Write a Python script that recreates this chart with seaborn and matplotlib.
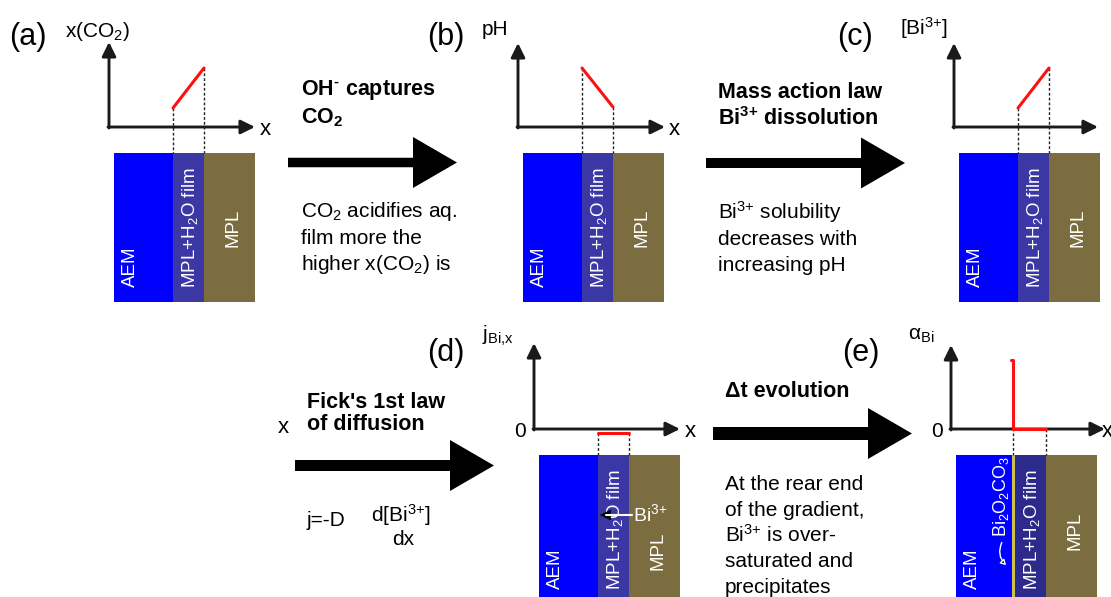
import matplotlib
matplotlib.use("Agg")
import matplotlib.pyplot as plt
from matplotlib.patches import Rectangle, FancyArrow, FancyArrowPatch
import seaborn as sns

sns.set_theme(style="white")
plt.rcParams["font.family"] = ["Liberation Sans", "DejaVu Sans"]
plt.rcParams["text.color"] = "black"
plt.rcParams["mathtext.fontset"] = "custom"
plt.rcParams["mathtext.rm"] = "Liberation Sans"
plt.rcParams["mathtext.it"] = "Liberation Sans:italic"
plt.rcParams["mathtext.bf"] = "Liberation Sans:bold"

# ---------------------------------------------------------------- data
# depth across the AEM | film | MPL stack and the sketched profile heights
film_x = [64, 95]
co2_level = [19, 59]        # x(CO2) rises towards the MPL
ph_level = [59, 20]         # pH falls towards the MPL
bi_level = [19, 59]         # [Bi3+] rises towards the MPL
flux_level = [-4, -4]       # j_Bi,x slightly negative in the film
alpha_x = [60, 62, 62, 95]
alpha_level = [69, 69, 0, 0]  # precipitate only at the rear end

layer_labels = ["AEM", r"MPL+H$_\mathregular{2}$O film", "MPL"]
layer_edges = [5, 64, 95, 146]
layer_colors = ["#0000ff", "#3b38a6", "#7b6d40"]

BI3 = r"Bi$^\mathregular{3{+}}$"
panel_tags = ["(a)", "(b)", "(c)", "(d)", "(e)"]
axis_names = [r"x(CO$_\mathregular{2}$)", "pH", r"[Bi$^\mathregular{3{+}}$]",
              r"j$_\mathregular{Bi{,}x}$", r"α$_\mathregular{Bi}$"]

W, H = 1111, 597
RED = "#ff1010"
WHITE_FS = 13.5
CAP_HALF = 6.7

fig = plt.figure(figsize=(W / 100, H / 100), dpi=100)
base = fig.add_axes([0, 0, 1, 1])
base.set_xlim(0, W)
base.set_ylim(H, 0)
base.axis("off")


def make_panel(ox, oy):
    ax = fig.add_axes([(ox - 25) / W, (H - (oy + 175)) / H, 190 / W, 275 / H])
    ax.patch.set_alpha(0)
    return ax


def finish(ax):
    ax.set_xlim(-25, 165)
    ax.set_ylim(-175, 100)
    ax.axis("off")


def axes_arrows(ax, xtip, ytip):
    style = dict(arrowstyle="-|>,head_length=0.85,head_width=0.42", color="k",
                 lw=2.1, mutation_scale=10, shrinkA=0, shrinkB=0)
    ax.annotate("", xy=(xtip, 0), xytext=(-1, 0), arrowprops=style)
    ax.annotate("", xy=(0, ytip), xytext=(0, -1), arrowprops=style)


def stack(ax, film_color="#3b38a6", mpl_bottom=-120, stripe=False):
    colors = [layer_colors[0], film_color, layer_colors[2]]
    for i in range(3):
        ax.add_patch(Rectangle((layer_edges[i], -175), layer_edges[i + 1] - layer_edges[i],
                               149, color=colors[i], lw=0, clip_on=False))
    if stripe:
        ax.add_patch(Rectangle((61, -175), 3, 149, color="#c9c152", lw=0, clip_on=False))
    starts = [-160, -161, mpl_bottom]
    centers = [19, 79, 122]
    for lab, cx, sy in zip(layer_labels, centers, starts):
        ax.text(cx + CAP_HALF, sy, lab, rotation=90, rotation_mode="anchor",
                ha="left", va="baseline", color="white", fontsize=WHITE_FS, clip_on=False)


def guides(ax, pts):
    for x, y in pts:
        ax.plot([x, x], [y, -26], color="#222222", lw=1.0, ls=(0, (2, 1.5)), zorder=1)


def profile(ax, xs, ys):
    sns.lineplot(x=xs, y=ys, ax=ax, color=RED, lw=2.2, estimator=None, sort=False,
                 zorder=5)


# ---------------------------------------------------------------- panels
origins = [(109, 127), (518, 127), (954, 127), (534, 429), (951, 429)]

ax = make_panel(*origins[0])
stack(ax)
guides(ax, [(film_x[0], co2_level[0]), (film_x[1], co2_level[1])])
axes_arrows(ax, 146, 85)
profile(ax, film_x, co2_level)
finish(ax)

ax = make_panel(*origins[1])
stack(ax, mpl_bottom=-120)
guides(ax, [(film_x[0], ph_level[0]), (film_x[1], ph_level[1])])
axes_arrows(ax, 147, 84)
profile(ax, film_x, ph_level)
finish(ax)

ax = make_panel(*origins[2])
stack(ax)
guides(ax, [(film_x[0], bi_level[0]), (film_x[1], bi_level[1])])
axes_arrows(ax, 144, 84)
profile(ax, film_x, bi_level)
finish(ax)

ax = make_panel(*origins[3])
stack(ax, mpl_bottom=-141)
guides(ax, [(film_x[0], flux_level[0]), (film_x[1], flux_level[1])])
axes_arrows(ax, 146, 86)
profile(ax, film_x, flux_level)
ax.plot([72, 98], [-86, -86], color="white", lw=1.5, zorder=6)
ax.annotate("", xy=(66, -86), xytext=(74, -86),
            arrowprops=dict(arrowstyle="-|>,head_length=0.7,head_width=0.35",
                            color="black", lw=0.5, mutation_scale=10, shrinkA=0, shrinkB=0))
ax.text(99, -92, BI3, color="white", fontsize=14, ha="left", va="baseline", zorder=7)
finish(ax)

ax = make_panel(*origins[4])
stack(ax, film_color="#2c2a8a", mpl_bottom=-121, stripe=True)
guides(ax, [(alpha_x[1], alpha_level[1]), (alpha_x[3], alpha_level[3])])
axes_arrows(ax, 154, 84)
profile(ax, alpha_x, alpha_level)
ax.text(48 + CAP_HALF, -108, r"Bi$_\mathregular{2}$O$_\mathregular{2}$CO$_\mathregular{3}$",
        rotation=90, rotation_mode="anchor", ha="left", va="baseline",
        color="white", fontsize=13)
ax.add_patch(FancyArrowPatch((52, -111), (57, -138), connectionstyle="arc3,rad=0.4",
                             arrowstyle="-|>,head_length=3,head_width=1.8",
                             ec="white", fc="black", lw=1.0, zorder=6))
finish(ax)

# ---------------------------------------------------------------- labels
tag_pos = [(9, 45), (427, 45), (837, 45), (427, 361), (842, 361)]
for t, (x, y) in zip(panel_tags, tag_pos):
    base.text(x, y, t, fontsize=22, ha="left", va="baseline")

name_pos = [(65, 37), (482, 35), (900, 35), (482, 341), (908, 340)]
for t, (x, y) in zip(axis_names, name_pos):
    base.text(x, y, t, fontsize=15, ha="left", va="baseline")

for x, y in [(260, 135), (669, 135), (685, 437), (1102, 437), (278, 433)]:
    base.text(x, y, "x", fontsize=16, ha="left", va="baseline")
for x in (520, 937):
    base.text(x, 437, "0", fontsize=15, ha="center", va="baseline")

# ---------------------------------------------------------------- process arrows
arrows = [(288, 162.5, 169, 9.5), (706, 163, 199, 10), (295, 465.5, 199, 11),
          (713, 433.5, 199, 13)]
for x, y, L, w in arrows:
    base.add_patch(FancyArrow(x, y, L, 0, width=w, head_width=51, head_length=44,
                              length_includes_head=True, color="black", lw=0))

bold = dict(fontsize=15.5, fontweight="bold", ha="left", va="baseline")
plain = dict(fontsize=15, ha="left", va="baseline")

base.text(301, 95, "OH$^\\mathregular{\u2010}$ captures", **bold)
base.text(301, 123, r"CO$_\mathregular{2}$", **bold)
for i, s in enumerate([r"CO$_\mathregular{2}$ acidifies aq.", "film more the",
                       r"higher x(CO$_\mathregular{2}$) is"]):
    base.text(301, 217 + 26.5 * i, s, **plain)

base.text(718, 98, "Mass action law", **bold)
base.text(718, 125, BI3 + " dissolution", **bold)
for i, s in enumerate([BI3 + " solubility", "decreases with", "increasing pH"]):
    base.text(718, 219 + 26 * i, s, **plain)

base.text(307, 408, "Fick's 1st law", **bold)
base.text(307, 430, "of diffusion", **bold)
base.text(307, 526, "j=-D", **plain)
base.text(401, 522, r"d[Bi$^\mathregular{3{+}}$]", fontsize=15, ha="center", va="baseline")
base.text(403, 545, "dx", fontsize=15, ha="center", va="baseline")

base.text(725, 397, "Δt evolution", **bold)
for i, s in enumerate(["At the rear end", "of the gradient,",
                       BI3 + " is over-", "saturated and", "precipitates"]):
    base.text(725, 490 + 25.8 * i, s, **plain)

fig.savefig("out.png", dpi=100)
